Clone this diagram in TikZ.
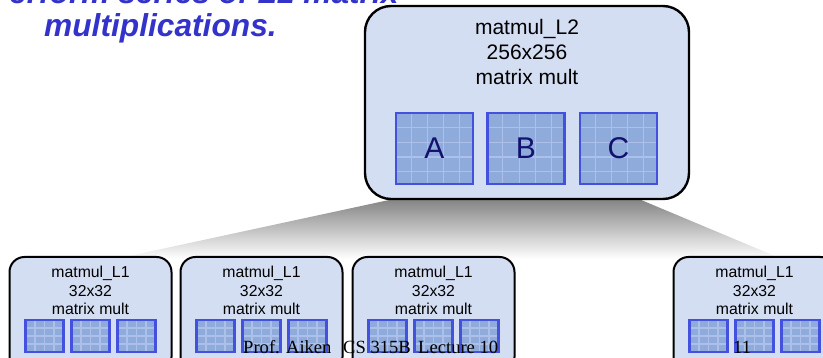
\documentclass[tikz,border=0pt]{standalone}
\usepackage{fontspec}
\setmainfont{Liberation Sans}
\newfontfamily\footfont{Liberation Serif}
\usetikzlibrary{calc}

\definecolor{boxfill}{RGB}{212,222,243}
\definecolor{matfill}{RGB}{143,171,219}
\definecolor{matborder}{RGB}{68,80,222}
\definecolor{gridblue}{RGB}{172,192,234}
\definecolor{titleblue}{RGB}{51,51,204}
\definecolor{lettercol}{RGB}{18,18,110}

\tikzset{
  % rounded container for one level of the multiplication
  l2box/.style={draw=black, line width=2.4pt, fill=boxfill, rounded corners=26pt,
    minimum width=324pt, minimum height=193pt, inner sep=0pt},
  l1box/.style={draw=black, line width=2pt, fill=boxfill, rounded corners=15pt,
    minimum width=162pt, minimum height=115pt, inner sep=0pt},
  l2text/.style={font=\fontsize{21}{25}\selectfont, anchor=base, inner sep=0pt},
  l1text/.style={font=\fontsize{15.8}{18}\selectfont, anchor=base, inner sep=0pt},
  % a matrix tile: blue square with a faint grid
  matbase/.style={draw=matborder, fill=matfill, inner sep=0pt,
    path picture={
      \foreach \f in {#1}{
        \draw[gridblue, line width=1.1pt]
          ($(path picture bounding box.north west)!\f!(path picture bounding box.north east)$) --
          ($(path picture bounding box.south west)!\f!(path picture bounding box.south east)$);
        \draw[gridblue, line width=1.1pt]
          ($(path picture bounding box.north west)!\f!(path picture bounding box.south west)$) --
          ($(path picture bounding box.north east)!\f!(path picture bounding box.south east)$);
      }}},
  bigmat/.style={matbase={0.2,0.41,0.62,0.83}, line width=2.6pt,
    minimum width=77pt, minimum height=71pt,
    font=\fontsize{30}{30}\selectfont, text=lettercol},
  smallmat/.style={matbase={0.25,0.5,0.75}, line width=2.2pt,
    minimum width=38pt, minimum height=32pt},
  titletext/.style={font=\fontsize{31.7}{32}\selectfont\bfseries\itshape,
    text=titleblue, anchor=base west, inner sep=0pt},
  foottext/.style={font=\footfont\fontsize{18.6}{20}\selectfont,
    anchor=base west, inner sep=0pt}
}

\begin{document}
\begin{tikzpicture}[x=1pt,y=-1pt]
\useasboundingbox (0,0) rectangle (823,358);

% slide title (top line runs off the page)
\node[titletext] (title1) at (9,4) {erform series of L1 matrix};
\node[titletext] (title2) at (44,37) {multiplications.};

% zoom wedge from the L2 block down to the L1 blocks
\shade[top color=black!50, bottom color=white]
  (403,197) -- (634,197) -- (782,259) -- (115,259) -- cycle;

% L2 block
\node[l2box] (L2) at (527,102.5) {};
\node[l2text] (L2name) at (527,35) {matmul\_L2};
\node[l2text] (L2size) at (527,60) {256x256};
\node[l2text] (L2op)   at (527,85) {matrix mult};
\node[bigmat] (A) at (434.5,148.5) {A};
\node[bigmat] (B) at (526,148.5) {B};
\node[bigmat] (C) at (618.5,148.5) {C};

% L1 blocks
\foreach \i/\cx in {a/90.5, b/261.5, c/433.5, d/754.5}{
  \node[l1box] (L1\i) at (\cx,314.5) {};
  \node[l1text] (L1\i name) at (\cx,278) {matmul\_L1};
  \node[l1text] (L1\i size) at (\cx,296.5) {32x32};
  \node[l1text] (L1\i op)   at (\cx,315) {matrix mult};
  \node[smallmat] (L1\i A) at (\cx-46,336) {};
  \node[smallmat] (L1\i B) at (\cx,336) {};
  \node[smallmat] (L1\i C) at (\cx+46,336) {};
}

% footer
\node[foottext] (author)  at (243,354) {Prof. Aiken};
\node[foottext] (course)  at (343,354) {CS 315B};
\node[foottext] (lecture) at (418,354) {Lecture 10};
\node[foottext] (page)    at (733,354) {11};
\end{tikzpicture}
\end{document}
